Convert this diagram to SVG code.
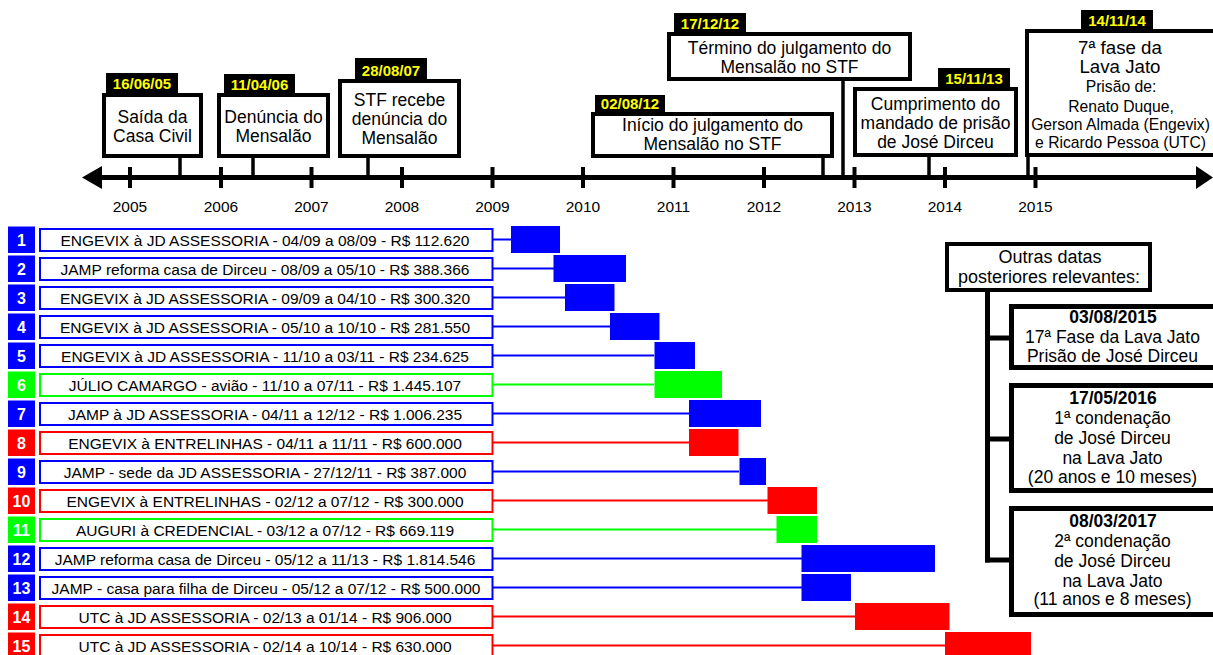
<svg xmlns="http://www.w3.org/2000/svg" width="1213" height="655" viewBox="0 0 1213 655">
<style>
text{font-family:"Liberation Sans",Arial,sans-serif;fill:#000}
.ev{fill:#fff;stroke:#000;stroke-width:4}
.tag{fill:#000}
.tt{font-weight:bold;font-size:15px;fill:#ff0;text-anchor:middle}
.et{font-size:17.5px;text-anchor:middle}
.es{font-size:15.7px;text-anchor:middle}
.yr{font-size:15.5px;text-anchor:middle}
.vl{stroke:#000;stroke-width:3.5;fill:none}
.tick{stroke:#000;stroke-width:4}
.num{font-weight:bold;font-size:16px;fill:#fff;text-anchor:middle}
.lt{font-size:15.5px;text-anchor:middle}
.lb{fill:#fff;stroke-width:2}
.b{stroke:#00f;fill:#00f}
.g{stroke:#0f0;fill:#0f0}
.r{stroke:#f00;fill:#f00}
.lb.b,.lb.g,.lb.r{fill:#fff}
.cn{stroke-width:2;fill:none}
.bar{stroke:none}
.rb{fill:#fff;stroke:#000;stroke-width:5}
.rt{font-size:17.5px;text-anchor:middle}
.rtb{font-size:17.5px;font-weight:bold;text-anchor:middle}
</style>

<g id="axis">
<line x1="98" y1="177.5" x2="1200" y2="177.5" stroke="#000" stroke-width="5"/>
<polygon points="82,177.5 102,166 102,189" fill="#000"/>
<polygon points="1213,177.5 1196,166 1196,189" fill="#000"/>
<line class="tick" x1="130" y1="167" x2="130" y2="188"/>
<line class="tick" x1="221" y1="167" x2="221" y2="188"/>
<line class="tick" x1="311.5" y1="167" x2="311.5" y2="188"/>
<line class="tick" x1="402" y1="167" x2="402" y2="188"/>
<line class="tick" x1="492.5" y1="167" x2="492.5" y2="188"/>
<line class="tick" x1="583" y1="167" x2="583" y2="188"/>
<line class="tick" x1="673.5" y1="167" x2="673.5" y2="188"/>
<line class="tick" x1="764" y1="167" x2="764" y2="188"/>
<line class="tick" x1="854.5" y1="167" x2="854.5" y2="188"/>
<line class="tick" x1="945" y1="167" x2="945" y2="188"/>
<line class="tick" x1="1035.5" y1="167" x2="1035.5" y2="188"/>
<text class="yr" x="130" y="212">2005</text>
<text class="yr" x="221" y="212">2006</text>
<text class="yr" x="311.5" y="212">2007</text>
<text class="yr" x="402" y="212">2008</text>
<text class="yr" x="492.5" y="212">2009</text>
<text class="yr" x="583" y="212">2010</text>
<text class="yr" x="673.5" y="212">2011</text>
<text class="yr" x="764" y="212">2012</text>
<text class="yr" x="854.5" y="212">2013</text>
<text class="yr" x="945" y="212">2014</text>
<text class="yr" x="1035.5" y="212">2015</text>
</g>

<g id="event-connectors">
<line class="vl" x1="180" y1="156" x2="180" y2="177"/>
<line class="vl" x1="253" y1="156" x2="253" y2="177"/>
<line class="vl" x1="368" y1="156" x2="368" y2="177"/>
<line class="vl" x1="823" y1="156" x2="823" y2="177"/>
<line class="vl" x1="843" y1="79" x2="843" y2="177"/>
<line class="vl" x1="929" y1="155" x2="929" y2="177"/>
<line class="vl" x1="1028" y1="155" x2="1028" y2="177"/>
</g>

<g id="ev1">
<rect class="tag" x="106" y="73" width="72" height="22"/>
<text class="tt" x="142" y="89">16/06/05</text>
<rect class="ev" x="104" y="95" width="97" height="61"/>
<text class="et" x="152.5" y="122.5">Saída da</text>
<text class="et" x="152.5" y="142">Casa Civil</text>
</g>
<g id="ev2">
<rect class="tag" x="224" y="74" width="71" height="21"/>
<text class="tt" x="259.5" y="89.5">11/04/06</text>
<rect class="ev" x="219" y="95" width="109" height="61"/>
<text class="et" x="273.5" y="122.5">Denúncia do</text>
<text class="et" x="273.5" y="142">Mensalão</text>
</g>
<g id="ev3">
<rect class="tag" x="355" y="58" width="72" height="23"/>
<text class="tt" x="391" y="75.5">28/08/07</text>
<rect class="ev" x="340" y="81" width="119" height="75"/>
<text class="et" x="399.5" y="106">STF recebe</text>
<text class="et" x="399.5" y="125">denúncia do</text>
<text class="et" x="399.5" y="144">Mensalão</text>
</g>
<g id="ev4">
<rect class="tag" x="595" y="95" width="70" height="19"/>
<text class="tt" x="630" y="108.5">02/08/12</text>
<rect class="ev" x="593" y="114" width="239" height="42"/>
<text class="et" x="712.5" y="130.5">Início do julgamento do</text>
<text class="et" x="712.5" y="149.5">Mensalão no STF</text>
</g>
<g id="ev5">
<rect class="tag" x="674" y="13" width="72" height="21"/>
<text class="tt" x="710" y="29">17/12/12</text>
<rect class="ev" x="669" y="34" width="241" height="45"/>
<text class="et" x="789.5" y="53.5">Término do julgamento do</text>
<text class="et" x="789.5" y="72.5">Mensalão no STF</text>
</g>
<g id="ev6">
<rect class="tag" x="938" y="68" width="72" height="21"/>
<text class="tt" x="974" y="84">15/11/13</text>
<rect class="ev" x="855" y="89" width="161" height="66"/>
<text class="et" x="935.5" y="110">Cumprimento do</text>
<text class="et" x="935.5" y="128.5">mandado de prisão</text>
<text class="et" x="935.5" y="147.5">de José Dirceu</text>
</g>
<g id="ev7">
<rect class="tag" x="1081" y="10" width="72" height="21"/>
<text class="tt" x="1117" y="25.5">14/11/14</text>
<rect class="ev" x="1027" y="31" width="192" height="124"/>
<text class="et" style="font-size:18.7px" x="1120" y="53.5">7ª fase da</text>
<text class="et" style="font-size:18.7px" x="1120" y="72.5">Lava Jato</text>
<text class="es" x="1121" y="91.5">Prisão de:</text>
<text class="es" x="1121" y="111.5">Renato Duque,</text>
<text class="es" x="1120.5" y="130">Gerson Almada (Engevix)</text>
<text class="es" x="1120.5" y="148">e Ricardo Pessoa (UTC)</text>
</g>

<g id="row-connectors">
<line class="cn b" x1="493" y1="239.5" x2="511" y2="239.5"/>
<line class="cn b" x1="493" y1="268.5" x2="554" y2="268.5"/>
<line class="cn b" x1="493" y1="297.5" x2="565" y2="297.5"/>
<line class="cn b" x1="493" y1="326.5" x2="610" y2="326.5"/>
<line class="cn b" x1="493" y1="355.5" x2="654" y2="355.5"/>
<line class="cn g" x1="493" y1="384.5" x2="654" y2="384.5"/>
<line class="cn b" x1="493" y1="413.5" x2="689" y2="413.5"/>
<line class="cn r" x1="493" y1="442.5" x2="689" y2="442.5"/>
<line class="cn b" x1="493" y1="471.5" x2="739" y2="471.5"/>
<line class="cn r" x1="493" y1="500.5" x2="768" y2="500.5"/>
<line class="cn g" x1="493" y1="529.5" x2="777" y2="529.5"/>
<line class="cn b" x1="493" y1="558.5" x2="802" y2="558.5"/>
<line class="cn b" x1="493" y1="587.5" x2="802" y2="587.5"/>
<line class="cn r" x1="493" y1="616.5" x2="855" y2="616.5"/>
<line class="cn r" x1="493" y1="645.5" x2="945" y2="645.5"/>
<line class="vl" x1="987.5" y1="292" x2="987.5" y2="562.5" style="stroke-width:5"/>
<line class="vl" x1="985" y1="338" x2="1010" y2="338" style="stroke-width:5"/>
<line class="vl" x1="985" y1="439" x2="1010" y2="439" style="stroke-width:5"/>
<line class="vl" x1="985" y1="560" x2="1010" y2="560" style="stroke-width:5"/>
</g>

<g id="row1"><rect class="b bar" x="8" y="226.5" width="27" height="26.5"/><text class="num" x="21.5" y="246">1</text><rect class="lb b" x="40" y="229" width="452.5" height="22"/><text class="lt" x="265" y="246">ENGEVIX à JD ASSESSORIA - 04/09 a 08/09 - R$ 112.620</text><rect class="b bar" x="511" y="226" width="49" height="27"/></g>
<g id="row2"><rect class="b bar" x="8" y="255.5" width="27" height="26.5"/><text class="num" x="21.5" y="275">2</text><rect class="lb b" x="40" y="258" width="452.5" height="22"/><text class="lt" x="265" y="275">JAMP reforma casa de Dirceu - 08/09 a 05/10 - R$ 388.366</text><rect class="b bar" x="553.5" y="255" width="72.5" height="27"/></g>
<g id="row3"><rect class="b bar" x="8" y="284.5" width="27" height="26.5"/><text class="num" x="21.5" y="304">3</text><rect class="lb b" x="40" y="287" width="452.5" height="22"/><text class="lt" x="265" y="304">ENGEVIX à JD ASSESSORIA - 09/09 a 04/10 - R$ 300.320</text><rect class="b bar" x="565" y="284" width="49.5" height="27"/></g>
<g id="row4"><rect class="b bar" x="8" y="313.5" width="27" height="26.5"/><text class="num" x="21.5" y="333">4</text><rect class="lb b" x="40" y="316" width="452.5" height="22"/><text class="lt" x="265" y="333">ENGEVIX à JD ASSESSORIA - 05/10 a 10/10 - R$ 281.550</text><rect class="b bar" x="610" y="313" width="49.5" height="27"/></g>
<g id="row5"><rect class="b bar" x="8" y="342.5" width="27" height="26.5"/><text class="num" x="21.5" y="362">5</text><rect class="lb b" x="40" y="345" width="452.5" height="22"/><text class="lt" x="265" y="362">ENGEVIX à JD ASSESSORIA - 11/10 a 03/11 - R$ 234.625</text><rect class="b bar" x="654.5" y="342" width="40.5" height="27"/></g>
<g id="row6"><rect class="g bar" x="8" y="371.5" width="27" height="26.5"/><text class="num" x="21.5" y="391">6</text><rect class="lb g" x="40" y="374" width="452.5" height="22"/><text class="lt" x="265" y="391">JÚLIO CAMARGO - avião - 11/10 a 07/11 - R$ 1.445.107</text><rect class="g bar" x="654.5" y="371" width="67.5" height="27"/></g>
<g id="row7"><rect class="b bar" x="8" y="400.5" width="27" height="26.5"/><text class="num" x="21.5" y="420">7</text><rect class="lb b" x="40" y="403" width="452.5" height="22"/><text class="lt" x="265" y="420">JAMP à JD ASSESSORIA - 04/11 a 12/12 - R$ 1.006.235</text><rect class="b bar" x="689" y="400" width="72" height="27"/></g>
<g id="row8"><rect class="r bar" x="8" y="429.5" width="27" height="26.5"/><text class="num" x="21.5" y="449">8</text><rect class="lb r" x="40" y="432" width="452.5" height="22"/><text class="lt" x="265" y="449">ENGEVIX à ENTRELINHAS - 04/11 a 11/11 - R$ 600.000</text><rect class="r bar" x="689" y="429" width="49.5" height="27"/></g>
<g id="row9"><rect class="b bar" x="8" y="458.5" width="27" height="26.5"/><text class="num" x="21.5" y="478">9</text><rect class="lb b" x="40" y="461" width="452.5" height="22"/><text class="lt" x="265" y="478">JAMP - sede da JD ASSESSORIA - 27/12/11 - R$ 387.000</text><rect class="b bar" x="739.5" y="458" width="26.5" height="27"/></g>
<g id="row10"><rect class="r bar" x="8" y="487.5" width="27" height="26.5"/><text class="num" x="21.5" y="507">10</text><rect class="lb r" x="40" y="490" width="452.5" height="22"/><text class="lt" x="265" y="507">ENGEVIX à ENTRELINHAS - 02/12 a 07/12 - R$ 300.000</text><rect class="r bar" x="767.5" y="487" width="49.5" height="27"/></g>
<g id="row11"><rect class="g bar" x="8" y="516.5" width="27" height="26.5"/><text class="num" x="21.5" y="536">11</text><rect class="lb g" x="40" y="519" width="452.5" height="22"/><text class="lt" x="265" y="536">AUGURI à CREDENCIAL - 03/12 a 07/12 - R$ 669.119</text><rect class="g bar" x="776.5" y="516" width="40.5" height="27"/></g>
<g id="row12"><rect class="b bar" x="8" y="545.5" width="27" height="26.5"/><text class="num" x="21.5" y="565">12</text><rect class="lb b" x="40" y="548" width="452.5" height="22"/><text class="lt" x="265" y="565">JAMP reforma casa de Dirceu - 05/12 a 11/13 - R$ 1.814.546</text><rect class="b bar" x="801.5" y="545" width="133.5" height="27"/></g>
<g id="row13"><rect class="b bar" x="8" y="574.5" width="27" height="26.5"/><text class="num" x="21.5" y="594">13</text><rect class="lb b" x="40" y="577" width="452.5" height="22"/><text class="lt" x="266" y="594">JAMP - casa para filha de Dirceu - 05/12 a 07/12 - R$ 500.000</text><rect class="b bar" x="801.5" y="574" width="49.5" height="27"/></g>
<g id="row14"><rect class="r bar" x="8" y="603.5" width="27" height="26.5"/><text class="num" x="21.5" y="623">14</text><rect class="lb r" x="40" y="606" width="452.5" height="22"/><text class="lt" x="265" y="623">UTC à JD ASSESSORIA - 02/13 a 01/14 - R$ 906.000</text><rect class="r bar" x="855" y="603" width="94.5" height="27"/></g>
<g id="row15"><rect class="r bar" x="8" y="632.5" width="27" height="26.5"/><text class="num" x="21.5" y="652">15</text><rect class="lb r" x="40" y="635" width="452.5" height="22"/><text class="lt" x="265" y="652">UTC à JD ASSESSORIA - 02/14 a 10/14 - R$ 630.000</text><rect class="r bar" x="945" y="632" width="86" height="27"/></g>

<g id="outras">
<rect class="rb" x="947" y="244" width="203" height="46" style="stroke-width:4"/>
<text class="rt" style="font-size:18px" x="1050" y="263">Outras datas</text>
<text class="rt" style="font-size:18px" x="1049" y="282.5">posteriores relevantes:</text>
</g>
<g id="d2015">
<rect class="rb" x="1011.5" y="306.5" width="210" height="61"/>
<text class="rtb" x="1113" y="323">03/08/2015</text>
<text class="rt" x="1112.5" y="343">17ª Fase da Lava Jato</text>
<text class="rt" x="1112.5" y="362">Prisão de José Dirceu</text>
</g>
<g id="d2016">
<rect class="rb" x="1011.5" y="385.5" width="210" height="105"/>
<text class="rtb" x="1113" y="403.5">17/05/2016</text>
<text class="rt" x="1112.5" y="423.5">1ª condenação</text>
<text class="rt" x="1112.5" y="443.5">de José Dirceu</text>
<text class="rt" x="1112.5" y="463.5">na Lava Jato</text>
<text class="rt" x="1112.5" y="483">(20 anos e 10 meses)</text>
</g>
<g id="d2017">
<rect class="rb" x="1011.5" y="508.5" width="210" height="106"/>
<text class="rtb" x="1113" y="526.5">08/03/2017</text>
<text class="rt" x="1112.5" y="546.5">2ª condenação</text>
<text class="rt" x="1112.5" y="566.5">de José Dirceu</text>
<text class="rt" x="1112.5" y="586.5">na Lava Jato</text>
<text class="rt" x="1112.5" y="605">(11 anos e 8 meses)</text>
</g>
</svg>
